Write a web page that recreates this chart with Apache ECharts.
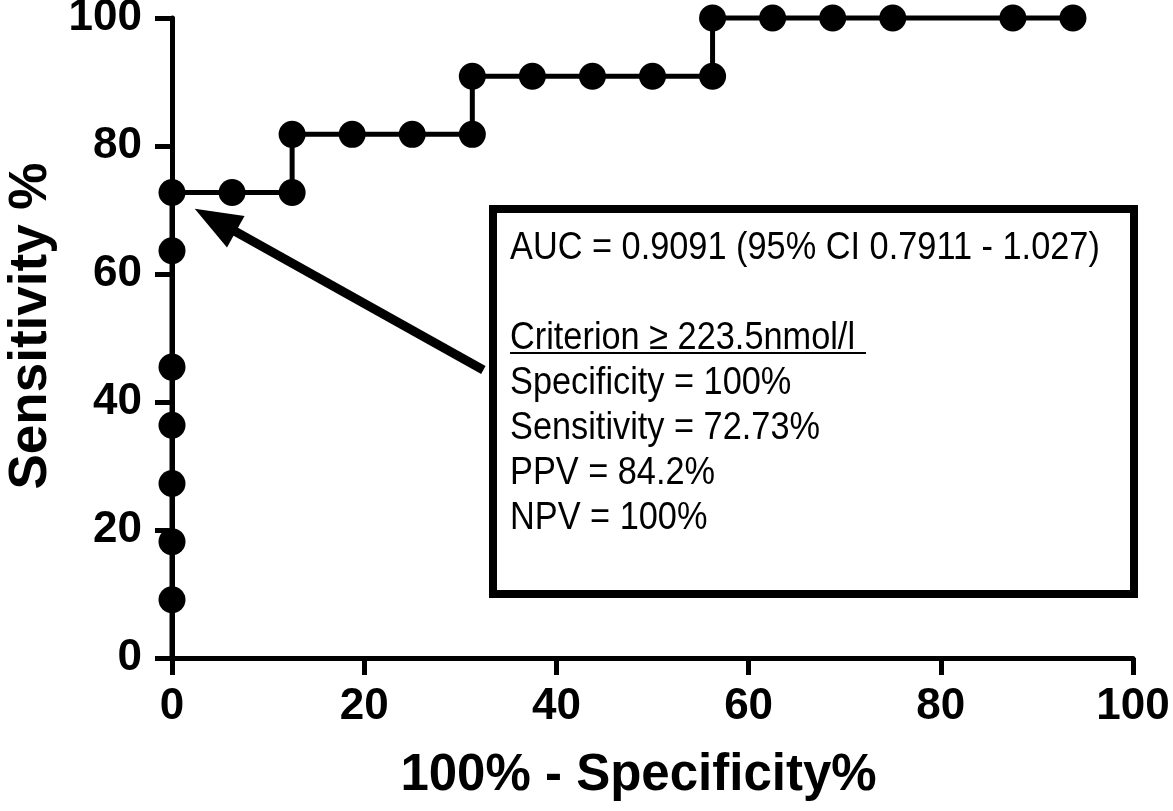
<!DOCTYPE html>
<html>
<head>
<meta charset="utf-8">
<script src="https://cdn.jsdelivr.net/npm/echarts@6/dist/echarts.min.js"></script>
<style>html,body{margin:0;padding:0;background:#fff}#c{width:1173px;height:811px}</style>
</head>
<body>
<div id="c"></div>
<script>
// ROC curve data (100% - Specificity, Sensitivity)
const fpr  = [0, 0, 0, 0, 0, 0, 0, 0, 6.25, 12.5, 12.5, 18.75, 25, 31.25, 31.25, 37.5, 43.75, 50, 56.25, 56.25, 62.5, 68.75, 75, 87.5, 93.75];
const sens = [0, 9.09, 18.18, 27.27, 36.36, 45.45, 63.64, 72.73, 72.73, 72.73, 81.82, 81.82, 81.82, 81.82, 90.91, 90.91, 90.91, 90.91, 90.91, 100, 100, 100, 100, 100, 100];
const xTicks = [0, 20, 40, 60, 80, 100];
const yTicks = [0, 20, 40, 60, 80, 100];
const boxLines = [
  'AUC = 0.9091 (95% CI 0.7911 - 1.027)',
  '',
  'Criterion \u2265 223.5nmol/l',
  'Specificity = 100%',
  'Sensitivity = 72.73%',
  'PPV = 84.2%',
  'NPV = 100%'
];
const xName = '100% - Specificity%';
const yName = 'Sensitivity %';

const FONT = '"Liberation Sans", Arial, Helvetica, sans-serif';
const chart = echarts.init(document.getElementById('c'), null, {renderer: 'canvas'});

const seriesData = fpr.map((x, i) => i === 0
  ? {value: [x, sens[i]], symbol: 'none'}
  : {value: [x, sens[i]]});

// annotation layout (pixels)
const boxX = 493, boxY = 209, boxW = 641, boxH = 385;
const textX = 510;
const lineYs = [248, 293, 338, 383, 428, 473, 518];
const graphics = [
  {type: 'rect', shape: {x: boxX, y: boxY, width: boxW, height: boxH},
   style: {fill: '#fff', stroke: '#000', lineWidth: 8}, z: 10}
];
boxLines.forEach((t, i) => {
  if (!t) return;
  graphics.push({type: 'text', x: textX, y: lineYs[i], scaleX: 0.88, z: 11,
    style: {text: t, font: '39px ' + FONT, fill: '#000', textVerticalAlign: 'middle', verticalAlign: 'middle'}});
});
graphics.push({type: 'line', shape: {x1: textX, y1: 353, x2: 866, y2: 353},
  style: {stroke: '#000', lineWidth: 2}, z: 11});

chart.setOption({
  animation: false,
  backgroundColor: '#fff',
  grid: {left: 172, right: 40, top: 18, bottom: 153, containLabel: false, outerBoundsMode: 'none'},
  xAxis: {
    type: 'value', min: 0, max: 100, interval: 20,
    name: xName, nameLocation: 'middle', nameGap: 92,
    nameTextStyle: {fontFamily: FONT, fontWeight: 'bold', fontSize: 51, color: '#000', padding: [0, 28, 0, 0]},
    axisLine: {lineStyle: {color: '#000', width: 5}},
    axisTick: {show: true, length: 17, lineStyle: {color: '#000', width: 5}},
    axisLabel: {fontFamily: FONT, fontWeight: 'bold', fontSize: 44, color: '#000', margin: 27,
      formatter: v => xTicks.includes(v) ? String(v) : ''},
    splitLine: {show: false}
  },
  yAxis: {
    type: 'value', min: 0, max: 100, interval: 20,
    name: yName, nameLocation: 'middle', nameGap: 112, nameRotate: 90,
    nameTextStyle: {fontFamily: FONT, fontWeight: 'bold', fontSize: 53, color: '#000', padding: [0, 0, 0, 24]},
    axisLine: {show: true, lineStyle: {color: '#000', width: 5}},
    axisTick: {show: true, length: 17, lineStyle: {color: '#000', width: 5}},
    axisLabel: {fontFamily: FONT, fontWeight: 'bold', fontSize: 44, color: '#000', margin: 30,
      formatter: v => yTicks.includes(v) ? String(v) : ''},
    splitLine: {show: false}
  },
  series: [{
    type: 'line',
    data: seriesData,
    symbol: 'circle', symbolSize: 27,
    itemStyle: {color: '#000'},
    lineStyle: {color: '#000', width: 5},
    clip: false,
    z: 5,
    markLine: {
      silent: true,
      symbol: ['none', 'triangle'],
      symbolSize: [36, 47],
      lineStyle: {color: '#000', width: 9, type: 'solid'},
      label: {show: false},
      data: [[{coord: [32.4, 45.0]}, {coord: [4.5, 68.4]}]]
    }
  }],
  graphic: graphics
});
</script>
</body>
</html>
